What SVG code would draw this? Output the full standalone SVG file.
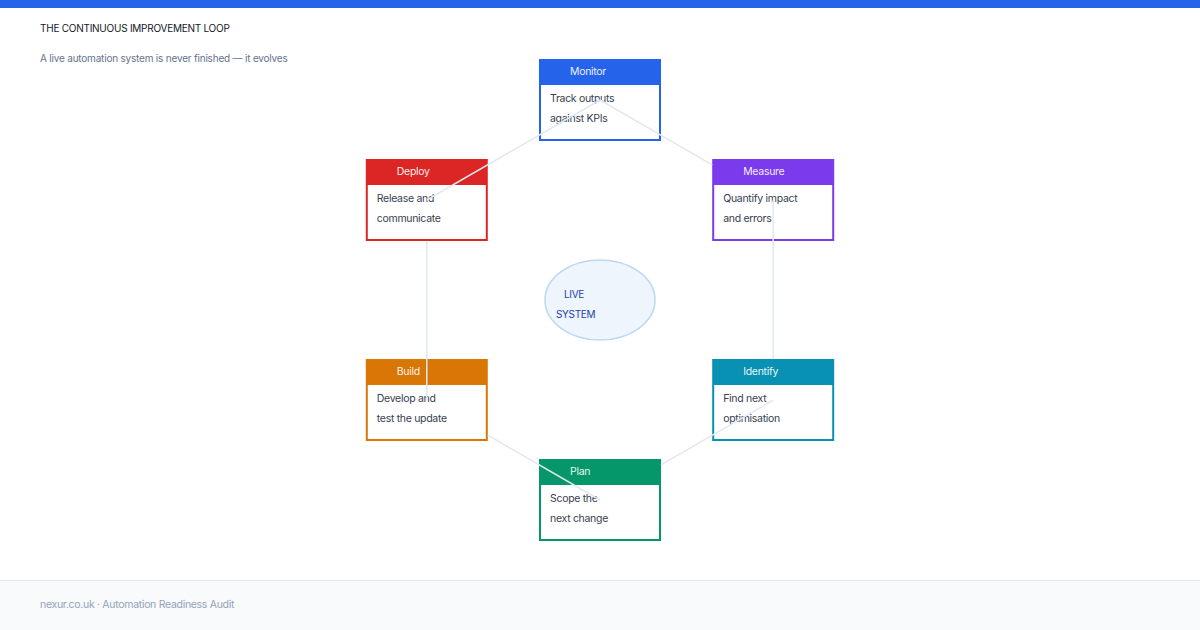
<svg xmlns="http://www.w3.org/2000/svg" width="1200" height="630" viewBox="0 0 1200 630">
<style>
text{font-family:Inter,"Liberation Sans",sans-serif}
.hd{font-size:10.5px;letter-spacing:-0.3px;fill:#ffffff;fill-opacity:0.93}
.bd{font-size:10.5px;letter-spacing:-0.3px;fill:#374151}
.box{fill:#ffffff;stroke-width:2}
.conn line{stroke:#e2e8f0;stroke-width:1.5}
</style>
<rect x="0" y="0" width="1200" height="630" fill="#ffffff"/>
<rect x="0" y="0" width="1200" height="8" fill="#2563eb"/>
<text x="40" y="32" font-size="10" letter-spacing="-0.25" fill="#111827">THE CONTINUOUS IMPROVEMENT LOOP</text>
<text x="40" y="62" font-size="10" letter-spacing="-0.2" fill="#64748b">A live automation system is never finished — it evolves</text>

<g id="center">
<ellipse cx="600" cy="300" rx="55" ry="40" fill="#eef5fd" stroke="#bcd8f2" stroke-width="1.5"/>
<text x="564" y="298" font-size="10" letter-spacing="-0.3" fill="#1e40af">LIVE</text>
<text x="556" y="318" font-size="10" letter-spacing="-0.3" fill="#1e40af">SYSTEM</text>
</g>

<g id="monitor">
<rect class="box" x="540" y="60" width="120" height="80" stroke="#2563eb"/>
<rect x="540" y="60" width="120" height="25" fill="#2563eb"/>
<text class="hd" x="570" y="75">Monitor</text>
<text class="bd" x="550" y="102">Track outputs</text>
<text class="bd" x="550" y="122">against KPIs</text>
</g>
<g id="measure">
<rect class="box" x="713.2" y="160" width="120" height="80" stroke="#7c3aed"/>
<rect x="713.2" y="160" width="120" height="25" fill="#7c3aed"/>
<text class="hd" x="743.2" y="175">Measure</text>
<text class="bd" x="723.2" y="202">Quantify impact</text>
<text class="bd" x="723.2" y="222">and errors</text>
</g>
<g id="identify">
<rect class="box" x="713.2" y="360" width="120" height="80" stroke="#0891b2"/>
<rect x="713.2" y="360" width="120" height="25" fill="#0891b2"/>
<text class="hd" x="743.2" y="375">Identify</text>
<text class="bd" x="723.2" y="402">Find next</text>
<text class="bd" x="723.2" y="422">optimisation</text>
</g>
<g id="plan">
<rect class="box" x="540" y="460" width="120" height="80" stroke="#059669"/>
<rect x="540" y="460" width="120" height="25" fill="#059669"/>
<text class="hd" x="570" y="475">Plan</text>
<text class="bd" x="550" y="502">Scope the</text>
<text class="bd" x="550" y="522">next change</text>
</g>
<g id="build">
<rect class="box" x="366.8" y="360" width="120" height="80" stroke="#d97706"/>
<rect x="366.8" y="360" width="120" height="25" fill="#d97706"/>
<text class="hd" x="396.8" y="375">Build</text>
<text class="bd" x="376.8" y="402">Develop and</text>
<text class="bd" x="376.8" y="422">test the update</text>
</g>
<g id="deploy">
<rect class="box" x="366.8" y="160" width="120" height="80" stroke="#dc2626"/>
<rect x="366.8" y="160" width="120" height="25" fill="#dc2626"/>
<text class="hd" x="396.8" y="175">Deploy</text>
<text class="bd" x="376.8" y="202">Release and</text>
<text class="bd" x="376.8" y="222">communicate</text>
</g>

<g id="connectors" class="conn">
<line x1="600" y1="100" x2="712.2" y2="164.8"/>
<line x1="773.2" y1="200" x2="773.2" y2="359"/>
<line x1="773.2" y1="400" x2="661" y2="464.8"/>
<line x1="600" y1="500" x2="487.8" y2="435.2"/>
<line x1="426.8" y1="400" x2="426.8" y2="241"/>
<line x1="426.8" y1="200" x2="600" y2="100"/>
</g>

<g id="footer">
<rect x="0" y="580" width="1200" height="50" fill="#f8fafc"/>
<line x1="0" y1="580.5" x2="1200" y2="580.5" stroke="#e2e8f0" stroke-width="1"/>
<text x="40" y="608" font-size="10.5" letter-spacing="-0.3" fill="#94a3b8">nexur.co.uk · Automation Readiness Audit</text>
</g>
</svg>
